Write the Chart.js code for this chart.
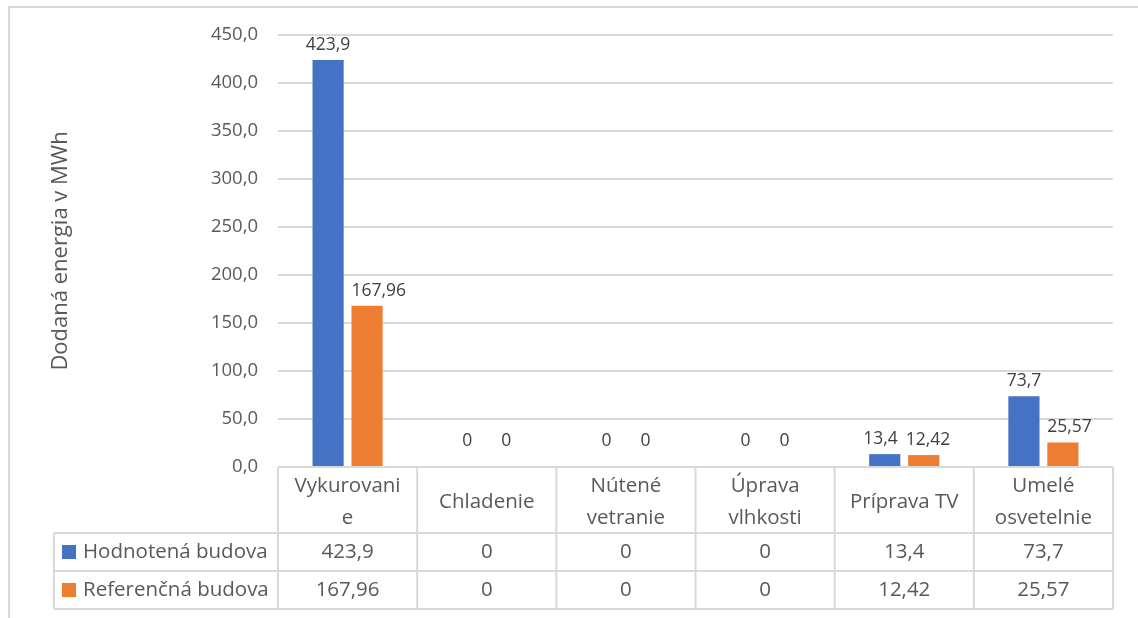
<!DOCTYPE html>
<html>
<head>
<meta charset="utf-8">
<script src="https://cdn.jsdelivr.net/npm/chart.js@4"></script>
<style>
    html, body { margin: 0; padding: 0; background: #ffffff; }
    #frame { position: absolute; left: 8px; top: 6px; width: 1200px; height: 700px; border: 2px solid #d9d9d9; box-sizing: border-box; }
    #wrap { position: absolute; left: 0; top: 0; width: 1138px; height: 618px; }
</style>
</head>
<body>
<div id="frame"></div>
<div id="wrap"><canvas id="myChart"></canvas></div>
<script>
/* Dodaná energia - hodnotená vs referenčná budova */

const categories = [["Vykurovani", "e"], ["Chladenie"], ["Nútené", "vetranie"], ["Úprava", "vlhkosti"], ["Príprava TV"], ["Umelé", "osvetelnie"]];
const seriesNames = ["Hodnotená budova", "Referenčná budova"];
const hodnotena = [423.9, 0, 0, 0, 13.4, 73.7];
const referencna = [167.96, 0, 0, 0, 12.42, 25.57];
const hodnotenaText = ["423,9", "0", "0", "0", "13,4", "73,7"];
const referencnaText = ["167,96", "0", "0", "0", "12,42", "25,57"];
const colors = ["#4472c4", "#ed7d31"];

const FONT = "'Open Sans', 'Noto Sans', sans-serif";
const TEXT = "#595959";
const LINE = "#d9d9d9";

// data labels above bars
const valueLabels = {
    id: 'valueLabels',
    afterDatasetsDraw(chart) {
        const ctx = chart.ctx;
        ctx.save();
        ctx.font = "17.5px " + FONT;
        ctx.fillStyle = "#404040";
        ctx.textAlign = 'center';
        ctx.textBaseline = 'middle';
        const m0 = chart.getDatasetMeta(0).data;
        const m1 = chart.getDatasetMeta(1).data;
        categories.forEach((c, i) => {
            const a = m0[i], b = m1[i];
            const wa = ctx.measureText(hodnotenaText[i]).width;
            const wb = ctx.measureText(referencnaText[i]).width;
            const ya = a.y - (hodnotena[i] === 0 ? 26 : 15);
            const yb = b.y - (referencna[i] === 0 ? 26 : 15);
            let xa = a.x, xb = b.x;
            // label sits over (or right next to) the taller neighbour bar -> align with its own bar's left edge
            if (a.y < yb + 10 && xb - wb / 2 < a.x + a.width / 2 + 4) {
                xb = b.x - b.width / 2 + wb / 2;
            }
            // push the two labels apart when they sit at similar height and collide
            if (Math.abs(ya - yb) < 20) {
                const over = (wa + wb) / 2 + 8 - (xb - xa);
                if (over > 0) { xa -= over / 2; xb += over / 2; }
            }
            ctx.fillText(hodnotenaText[i], xa, ya);
            ctx.fillText(referencnaText[i], xb, yb);
        });
        ctx.restore();
    }
};

// data table under the chart
const dataTable = {
    id: 'dataTable',
    afterDraw(chart) {
        const ctx = chart.ctx;
        const x = chart.scales.x;
        const area = chart.chartArea;
        const top = area.bottom;
        const rows = [top, top + 66, top + 104, top + 142];
        const legendLeft = 54;
        const half = (x.getPixelForValue(1) - x.getPixelForValue(0)) / 2;
        const cols = categories.map((c, i) => x.getPixelForValue(i) - half);
        cols.push(area.right);

        ctx.save();
        ctx.strokeStyle = LINE;
        ctx.lineWidth = 2;
        ctx.beginPath();
        // horizontal lines
        ctx.moveTo(area.left, rows[0]); ctx.lineTo(area.right, rows[0]);
        for (let r = 1; r < rows.length; r++) {
            ctx.moveTo(legendLeft, rows[r]); ctx.lineTo(area.right, rows[r]);
        }
        // vertical lines
        cols.forEach(cx => { ctx.moveTo(cx, rows[0]); ctx.lineTo(cx, rows[3]); });
        ctx.moveTo(legendLeft, rows[1]); ctx.lineTo(legendLeft, rows[3]);
        ctx.stroke();

        ctx.fillStyle = TEXT;
        ctx.font = "20.5px " + FONT;
        ctx.textAlign = 'center';
        ctx.textBaseline = 'middle';
        categories.forEach((lines, i) => {
            const cx = x.getPixelForValue(i);
            const mid = (rows[0] + rows[1]) / 2 + 2;
            lines.forEach((t, k) => {
                ctx.fillText(t, cx, mid + (k - (lines.length - 1) / 2) * 32);
            });
            ctx.fillText(hodnotenaText[i], cx, (rows[1] + rows[2]) / 2);
            ctx.fillText(referencnaText[i], cx, (rows[2] + rows[3]) / 2);
        });

        // legend keys
        ctx.textAlign = 'left';
        seriesNames.forEach((name, s) => {
            const cy = (rows[s + 1] + rows[s + 2]) / 2;
            ctx.fillStyle = colors[s];
            ctx.fillRect(legendLeft + 8, cy - 7, 14, 14);
            ctx.fillStyle = TEXT;
            ctx.fillText(name, legendLeft + 29, cy);
        });
        ctx.restore();
    }
};

const myChart = document.getElementById("myChart");

new Chart(myChart, {
    type: 'bar',
    data: {
        labels: categories,
        datasets: [
            { label: seriesNames[0], data: hodnotena, backgroundColor: colors[0] },
            { label: seriesNames[1], data: referencna, backgroundColor: colors[1] }
        ]
    },
    options: {
        responsive: true,
        maintainAspectRatio: false,
        animation: false,
        datasets: { bar: { categoryPercentage: 0.56, barPercentage: 0.8 } },
        layout: { padding: { left: 0, top: 35, right: 25, bottom: 151 } },
        scales: {
            x: { display: false },
            y: {
                min: 0,
                max: 450,
                afterFit: (scale) => { scale.width = 278; },
                title: {
                    display: true,
                    text: 'Dodaná energia v MWh',
                    color: TEXT,
                    font: { size: 22, family: FONT },
                    padding: { top: 48 }
                },
                ticks: {
                    stepSize: 50,
                    padding: 20,
                    color: TEXT,
                    font: { size: 18.5, family: FONT },
                    callback: (v) => v.toFixed(1).replace('.', ',')
                },
                grid: { color: LINE, lineWidth: 2, drawTicks: false },
                border: { display: false }
            }
        },
        plugins: {
            legend: { display: false },
            tooltip: { enabled: false }
        }
    },
    plugins: [valueLabels, dataTable]
});
</script>
</body>
</html>
